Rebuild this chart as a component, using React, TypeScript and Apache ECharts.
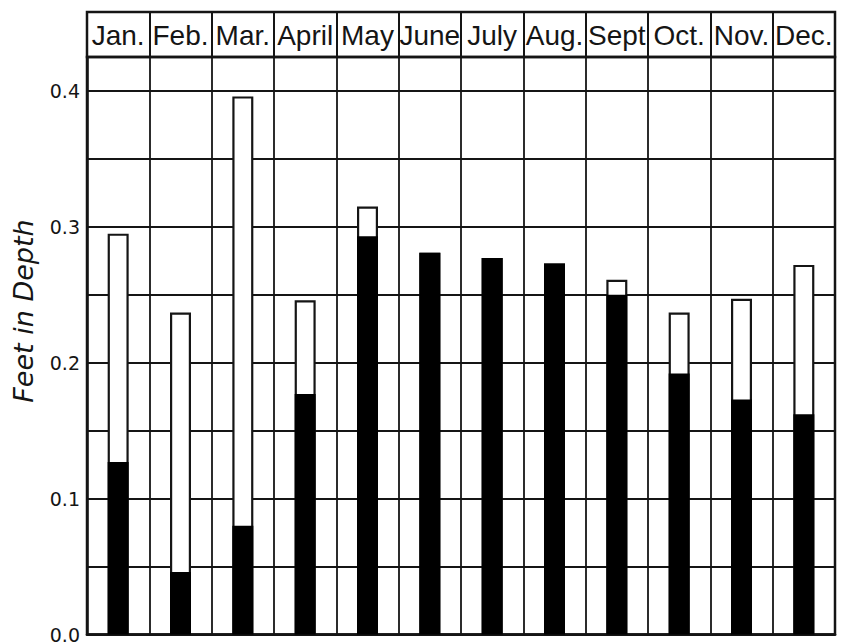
import React, { useEffect, useRef } from "react";
import * as echarts from "echarts";

const months = ["Jan.", "Feb.", "Mar.", "April", "May", "June", "July", "Aug.", "Sept", "Oct.", "Nov.", "Dec."];
// total depth of each bar (outlined white + black parts)
const totalDepth = [0.295, 0.237, 0.396, 0.246, 0.315, 0.281, 0.277, 0.273, 0.261, 0.237, 0.247, 0.272];
// solid black lower part
const blackDepth = [0.127, 0.046, 0.080, 0.177, 0.293, 0.281, 0.277, 0.273, 0.250, 0.192, 0.173, 0.162];
const yMin = 0;
const yMax = 0.425;
const yStep = 0.05;
const yAxisTitle = "Feet in Depth";

const INK = "#151515";

export default function App() {
  const ref = useRef<HTMLDivElement>(null);
  useEffect(() => {
    if (!ref.current) return;
    const chart = echarts.init(ref.current, undefined, { renderer: "svg" });
    chart.setOption({
      animation: false,
      backgroundColor: "#ffffff",
      grid: [
        {
          left: 87, right: 14, top: 57, bottom: 4,
          show: true, borderColor: INK, borderWidth: 2.5, backgroundColor: "transparent",
        },
        {
          left: 87, right: 14, top: 12, height: 45,
          show: true, borderColor: INK, borderWidth: 2.5, backgroundColor: "transparent",
        },
      ],
      xAxis: [
        {
          type: "category", gridIndex: 0, data: months, position: "top",
          axisLine: { show: true, lineStyle: { color: INK, width: 2.5 } },
          axisTick: { show: false },
          axisLabel: {
            interval: 0, margin: 8, color: INK, fontSize: 28,
            fontFamily: "Liberation Sans, Arial, sans-serif",
          },
          splitLine: { show: true, interval: 0, lineStyle: { color: INK, width: 1.8 } },
        },
        {
          type: "category", gridIndex: 1, data: months,
          axisLine: { show: false }, axisTick: { show: false }, axisLabel: { show: false },
          splitLine: { show: true, interval: 0, lineStyle: { color: INK, width: 2 } },
        },
      ],
      yAxis: [
        {
          type: "value", gridIndex: 0, min: yMin, max: yMax, interval: yStep,
          axisLine: { show: true, lineStyle: { color: INK, width: 2.5 } },
          axisTick: { show: false },
          axisLabel: {
            margin: 7, color: INK, fontSize: 19, fontFamily: "DejaVu Sans, sans-serif",
            showMaxLabel: false,
            formatter: (v: number) => (Math.round(v * 100) % 10 === 0 ? v.toFixed(1) : ""),
          },
          splitLine: { show: true, lineStyle: { color: INK, width: 1.8 } },
        },
        {
          type: "value", gridIndex: 1, min: 0, max: 1,
          axisLine: { show: false }, axisTick: { show: false }, axisLabel: { show: false },
          splitLine: { show: false },
        },
      ],
      graphic: [
        {
          type: "text", x: 23, y: 311, rotation: Math.PI / 2,
          style: {
            text: yAxisTitle, fill: INK, fontSize: 27, fontStyle: "italic",
            fontFamily: "DejaVu Sans, sans-serif", align: "center", verticalAlign: "middle",
          },
        },
      ],
      series: [
        {
          type: "bar", name: "total", xAxisIndex: 0, yAxisIndex: 0,
          data: totalDepth, barWidth: 21, barGap: "-100%",
          itemStyle: { color: "#ffffff", borderColor: INK, borderWidth: 2.2 },
          z: 3,
        },
        {
          type: "bar", name: "black", xAxisIndex: 0, yAxisIndex: 0,
          data: blackDepth, barWidth: 21, barGap: "-100%",
          itemStyle: { color: "#000000", borderColor: "#000000", borderWidth: 2.2 },
          z: 4,
        },
      ],
    });
    return () => chart.dispose();
  }, []);
  return (
    <div
      ref={ref}
      style={{ position: "fixed", left: 0, top: 0, width: 849, height: 644, background: "#fff" }}
    />
  );
}
